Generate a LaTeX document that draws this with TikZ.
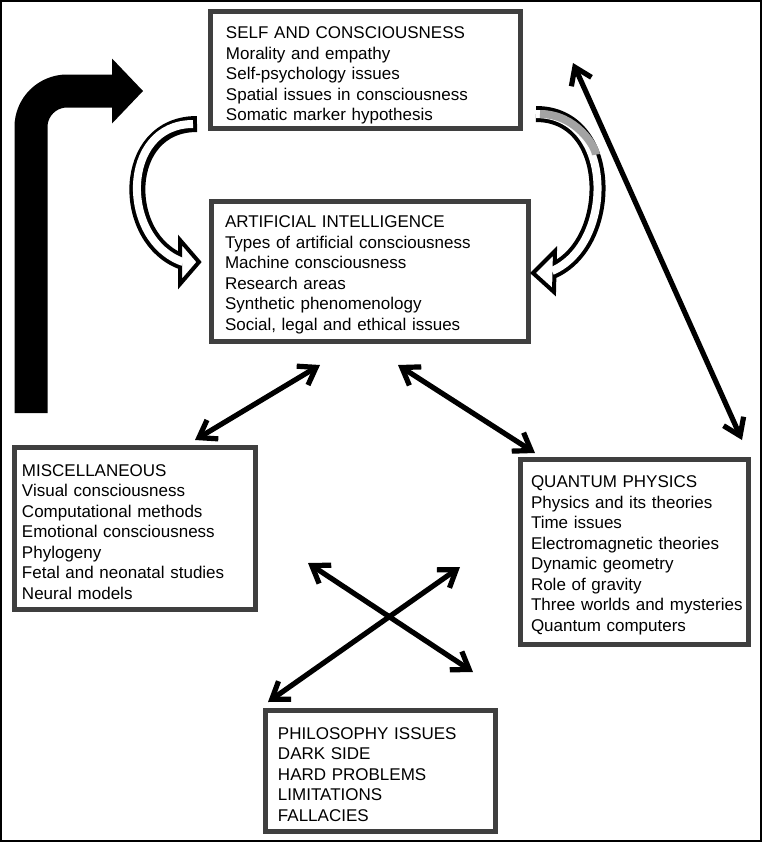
\documentclass[tikz,border=0pt]{standalone}
\usepackage{fontspec}
\setmainfont{Liberation Sans}
\usepackage{tikz}
\usetikzlibrary{arrows.meta}
\definecolor{boxgray}{HTML}{3F3F3F}
\definecolor{foldgray}{HTML}{A3A3A3}
\tikzset{topicbox/.style={draw=boxgray,line width=2.5pt,anchor=north west,outer sep=0pt,
align=left,inner ysep=0pt,font=\fontsize{8.5}{10.25}\selectfont,
execute at begin node={\rule{0pt}{#1}}},
topicbox/.default=9.8pt,
linkarrow/.style={line width=2.6pt,{Straight Barb[length=8pt,width=11pt]}-{Straight Barb[length=8pt,width=11pt]}}}

\begin{document}
\begin{tikzpicture}[x=0.5pt,y=-0.5pt]
\useasboundingbox (0,0) rectangle (763,843);
\draw[line width=1pt] (1,1) rectangle (761,841);

\node[topicbox=12pt,minimum width=155pt,minimum height=58.5pt,inner xsep=8pt,text width=139pt] (self) at (210,11)
{SELF AND CONSCIOUSNESS\\Morality and empathy\\Self-psychology issues\\Spatial issues in consciousness\\Somatic marker hypothesis};
\node[topicbox,minimum width=158.5pt,minimum height=70pt,inner xsep=7pt,text width=144.5pt] (ai) at (211,201)
{ARTIFICIAL INTELLIGENCE\\Types of artificial consciousness\\Machine consciousness\\Research areas\\Synthetic phenomenology\\Social, legal and ethical issues};
\node[topicbox,minimum width=120.5pt,minimum height=81pt,inner xsep=4pt,text width=112.5pt] (misc) at (14,447)
{MISCELLANEOUS\\Visual consciousness\\Computational methods\\Emotional consciousness\\Phylogeny\\Fetal and neonatal studies\\Neural models};
\node[topicbox,minimum width=114pt,minimum height=92.5pt,inner xsep=5.5pt,text width=103pt] (qp) at (520,459)
{QUANTUM PHYSICS\\Physics and its theories\\Time issues\\Electromagnetic theories\\Dynamic geometry\\Role of gravity\\\mbox{Three worlds and mysteries}\\Quantum computers};
\node[topicbox,minimum width=115pt,minimum height=60.5pt,inner xsep=6.5pt,text width=102pt] (phil) at (265,710)
{PHILOSOPHY ISSUES\\DARK SIDE\\HARD PROBLEMS\\LIMITATIONS\\FALLACIES};

% big bent arrow
\coordinate (bend-foot) at (31,413);
\coordinate (bend-tip) at (143,91);
\draw[line width=16.5pt,rounded corners=18pt,-{Triangle[length=15.5pt,width=32.5pt,line width=0pt]}] (bend-foot) |- (bend-tip);

% hollow curved arrow, left
\coordinate (lc-start) at (197,124);
\coordinate (lc-end) at (183,262);
\draw[line width=8pt] (lc-start) .. controls (120,124) and (120,240) .. (lc-end);
\filldraw[fill=white,line width=2pt] (180,240) -- (199,262) -- (180,284) -- cycle;
\draw[white,line width=4pt,shorten <=2pt] (lc-start) .. controls (120,124) and (120,240) .. (lc-end);

% curved arrow, right
\coordinate (rc-start) at (536,114);
\coordinate (rc-mid) at (597.4,182.6);
\coordinate (rc-end) at (552,271);
\draw[line width=8pt] (rc-start) .. controls (576,114) and (595.5,146.75) .. (rc-mid)
  .. controls (599.25,218.5) and (583.5,257.5) .. (rc-end);
\filldraw[fill=white,line width=2pt] (555,251) -- (533,273) -- (554,292) -- cycle;
\draw[white,line width=4pt] (rc-start) .. controls (576,114) and (595.5,146.75) .. (rc-mid)
  .. controls (599.25,218.5) and (583.5,257.5) .. (rc-end);
\draw[foldgray,line width=4pt,shorten <=2pt,shorten >=14pt] (rc-start) .. controls (576,114) and (595.5,146.75) .. (rc-mid);

% double arrows
\coordinate (ai-l) at (320,365);
\coordinate (misc-r) at (195,440);
\coordinate (ai-r) at (398,365);
\coordinate (qp-l) at (535,453);
\coordinate (misc-x) at (308,563);
\coordinate (phil-r) at (473,672);
\coordinate (qp-x) at (460,567);
\coordinate (phil-l) at (268,702);
\coordinate (self-r) at (573,63);
\coordinate (qp-t) at (742,440);
\foreach \a/\b in {ai-l/misc-r,ai-r/qp-l,misc-x/phil-r,qp-x/phil-l,self-r/qp-t}{
\draw[linkarrow] (\a) -- (\b);
}
\end{tikzpicture}
\end{document}
